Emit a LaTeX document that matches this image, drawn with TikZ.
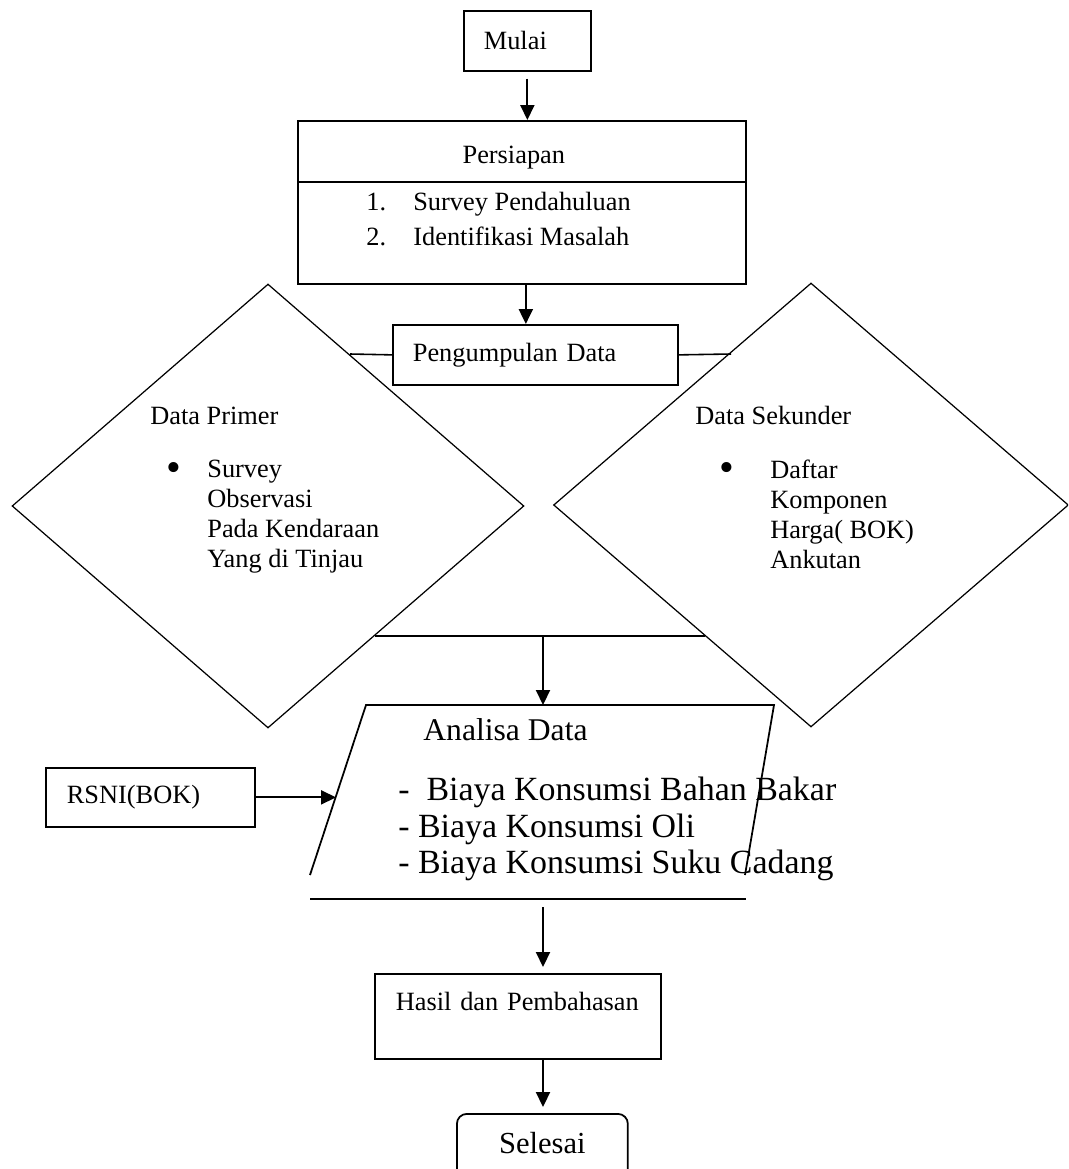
\documentclass[tikz,border=0pt]{standalone}
\usepackage{fontspec}
\setmainfont{Liberation Serif}
\usetikzlibrary{arrows.meta,shapes.geometric}

\begin{document}
\begin{tikzpicture}[x=0.02cm, y=-0.02cm, font=\fontsize{15}{17}\selectfont]
\useasboundingbox (0,0) rectangle (1068,1169);
\clip (0,0) rectangle (1068,1169);

% boxes
\begin{scope}[every node/.style={draw,line width=1pt,inner ysep=0pt,align=left,anchor=north west}]
    \node[text width=1.74cm,inner xsep=0.4cm,minimum height=1.2cm] (mulai) at (463,10) {Mulai};
    \node[text width=8.96cm,inner xsep=0pt,align=center,text height=0.86cm,text depth=2.4cm] (persiapan) at (297,120) {\hspace*{-0.32cm}Persiapan};
    \node[text width=4.9cm,inner xsep=0.4cm,minimum height=1.2cm] (pengumpul) at (392,324) {Pengumpulan Data};
    \node[text width=3.34cm,inner xsep=0.42cm,minimum height=1.18cm] (rsni) at (45,767) {RSNI(BOK)};
    \node[text width=4.88cm,inner xsep=0.42cm,text height=0.74cm,text depth=0.96cm] (hasil) at (374,973) {Hasil dan Pembahasan};
    \node[text width=3.42cm,inner xsep=0pt,align=center,rounded corners=0.2cm,text height=0.8cm,text depth=0.8cm,font=\fontsize{17.4}{20}\selectfont] (selesai) at (456,1113) {Selesai};
\end{scope}

\begin{scope}[every node/.style={diamond,draw,line width=0.7pt,inner sep=0pt}]
    \node[minimum width=10.24cm,minimum height=8.88cm] (primer) at (268,506) {};
    \node[minimum width=10.3cm,minimum height=8.88cm] (sekunder) at (811,505) {};
\end{scope}

% texts
\coordinate (prepdiv) at (297,182);
\draw[line width=1pt] (prepdiv) -- (prepdiv -| persiapan.east);
\node[anchor=north west,align=left,inner sep=0pt,font=\fontsize{15}{19.8}\selectfont] (prepitems) at (366,192)
    {\makebox[0.94cm][l]{1.}Survey Pendahuluan\\\makebox[0.94cm][l]{2.}Identifikasi Masalah};

\node[anchor=base west,inner sep=0pt] (primerhead) at (150,424) {Data Primer};
\node[anchor=base,inner sep=0pt,font=\fontsize{24}{24}\selectfont] (primerdot) at (174,481) {\textbullet};
\node[anchor=north west,align=left,inner sep=0pt] (primerlist) at (207,460)
    {Survey\\Observasi\\Pada Kendaraan\\Yang di Tinjau};

\node[anchor=base west,inner sep=0pt] (sekhead) at (695,424) {Data Sekunder};
\node[anchor=base,inner sep=0pt,font=\fontsize{24}{24}\selectfont] (sekdot) at (727,481) {\textbullet};
\node[anchor=north west,align=left,inner sep=0pt] (seklist) at (770,460)
    {Daftar\\Komponen\\Harga( BOK)\\Ankutan};

% analisa data
\coordinate (anlBL) at (310,875);
\coordinate (anlTL) at (366,705);
\coordinate (anlTR) at (774,705);
\coordinate (anlBR) at (745,875);
\draw[line width=1pt] (anlBL) -- (anlTL) -- (anlTR) -- (anlBR);
\draw[line width=1pt] (310,899) -- (746,899);
\node[anchor=base west,inner sep=0pt,font=\fontsize{18}{20}\selectfont] (anlhead) at (423,740) {Analisa Data};
\node[anchor=north west,align=left,inner sep=0pt,font=\fontsize{19.3}{20.8}\selectfont] (anllist) at (398,777)
    {-\ \ Biaya Konsumsi Bahan Bakar\\- Biaya Konsumsi Oli\\- Biaya Konsumsi Suku Cadang};

% joints
\coordinate (primerjoin) at (350,354);
\coordinate (sekjoin) at (731,354);
\coordinate (primerout) at (375,636);
\coordinate (sekout) at (705,636);
\coordinate (joinmid) at (543,636);
\coordinate (anltop) at (543,705);
\coordinate (anlin) at (336,796.5);
\coordinate (anlbot) at (543,907);

\begin{scope}[>={Triangle[length=0.3cm,width=0.28cm]},
              every edge/.style={draw,line width=1.2pt}]
    \path [->] (mulai.south) edge[shorten <=0.14cm] (mulai.south |- persiapan.north);
    \path [->] ([xshift=0.08cm]persiapan.south) edge ([xshift=0.08cm]persiapan.south |- pengumpul.north);
    \path [-] (pengumpul.west) edge[line width=0.9pt] (primerjoin);
    \path [-] (pengumpul.east) edge[line width=0.9pt] (sekjoin);
    \path [-] (primerout) edge[line width=1.1pt] (sekout);
    \path [->] (joinmid) edge (anltop);
    \path [->] (rsni.east) edge (rsni.east -| anlin);
    \path [->] (anlbot) edge[shorten >=0.12cm] (anlbot |- hasil.north);
    \path [->] (anlbot |- hasil.south) edge[shorten >=0.12cm] (anlbot |- selesai.north);
\end{scope}
\end{tikzpicture}
\end{document}
